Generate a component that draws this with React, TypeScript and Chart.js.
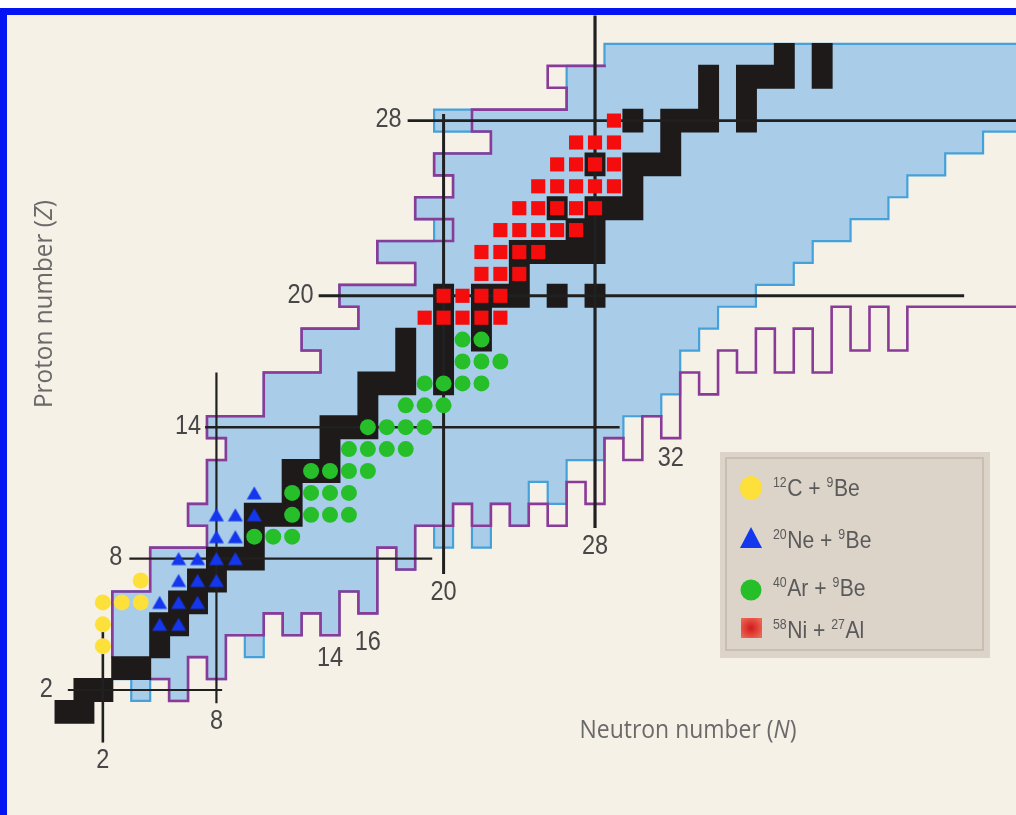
import React, { useEffect, useRef } from "react";
import { Chart, registerables } from "chart.js";

Chart.register(...registerables);

// Visible window in (N, Z)
const N_MIN = -3.434;
const N_MAX = 50.24;
const Z_MIN = -3.708;
const Z_MAX = 33.507;

// Stable nuclides: neutron numbers for each proton number (index = Z)
const stableN: number[][] = [
  [],
  [0, 1],
  [1, 2],
  [3, 4],
  [5],
  [5, 6],
  [6, 7],
  [7, 8],
  [8, 9, 10],
  [10],
  [10, 11, 12],
  [12],
  [12, 13, 14],
  [14],
  [14, 15, 16],
  [16],
  [16, 17, 18, 20],
  [18, 20],
  [18, 20, 22],
  [20, 22],
  [20, 22, 23, 24, 26, 28],
  [24],
  [24, 25, 26, 27, 28],
  [27, 28],
  [26, 28, 29, 30],
  [30],
  [28, 30, 31, 32],
  [32],
  [30, 32, 33, 34, 36],
  [34, 36],
  [34, 36, 37, 38, 40],
  [38, 40],
];

// Observed nuclides: neutron-number ranges for each Z (index = Z)
const knownRanges: [number, number][][] = [
  [],
  [],
  [[4, 4], [6, 6]],
  [[3, 6], [8, 8]],
  [[3, 8], [10, 10]],
  [[3, 10], [12, 12], [14, 14]],
  [[3, 14], [16, 16]],
  [[5, 16]],
  [[5, 16], [18, 18]],
  [[8, 18], [20, 20], [22, 22]],
  [[7, 20], [22, 22], [24, 24]],
  [[8, 24], [26, 26]],
  [[8, 26]],
  [[9, 28]],
  [[8, 29]],
  [[11, 31]],
  [[11, 32]],
  [[14, 32]],
  [[13, 33]],
  [[16, 34]],
  [[15, 36]],
  [[19, 38]],
  [[17, 39]],
  [[20, 41]],
  [[19, 43]],
  [[21, 44]],
  [[20, 46]],
  [[23, 48]],
  [[20, 56]],
  [[27, 56]],
  [[27, 56]],
  [[29, 56]],
];

// Drip-line contours, corners on cell edges as [N, Z]
const protonDripLine: [number, number][] = [
  [2.5, 3.5], [2.5, 6.5], [4.5, 6.5], [4.5, 8.5], [7.5, 8.5], [7.5, 9.5], [6.5, 9.5],
  [6.5, 10.5], [7.5, 10.5], [7.5, 12.5], [8.5, 12.5], [8.5, 13.5], [7.5, 13.5], [7.5, 14.5],
  [10.5, 14.5], [10.5, 16.5], [13.5, 16.5], [13.5, 17.5], [12.5, 17.5], [12.5, 18.5],
  [15.5, 18.5], [15.5, 19.5], [14.5, 19.5], [14.5, 20.5], [18.5, 20.5], [18.5, 21.5],
  [16.5, 21.5], [16.5, 22.5], [20.5, 22.5], [20.5, 23.5], [18.5, 23.5], [18.5, 24.5],
  [20.5, 24.5], [20.5, 25.5], [19.5, 25.5], [19.5, 26.5], [22.5, 26.5], [22.5, 27.5],
  [21.5, 27.5], [21.5, 28.5], [26.5, 28.5], [26.5, 29.5], [25.5, 29.5], [25.5, 30.5],
  [28.5, 30.5],
];

const neutronDripLine: [number, number][] = [
  [4.5, 2.5], [5.5, 2.5], [5.5, 1.5], [6.5, 1.5], [6.5, 3.5], [7.5, 3.5], [7.5, 2.5],
  [8.5, 2.5], [8.5, 4.5], [10.5, 4.5], [10.5, 5.5], [11.5, 5.5], [11.5, 4.5], [12.5, 4.5],
  [12.5, 5.5], [13.5, 5.5], [13.5, 4.5], [14.5, 4.5], [14.5, 6.5], [15.5, 6.5], [15.5, 5.5],
  [16.5, 5.5], [16.5, 8.5], [17.5, 8.5], [17.5, 7.5], [18.5, 7.5], [18.5, 9.5], [20.5, 9.5],
  [20.5, 10.5], [21.5, 10.5], [21.5, 9.5], [22.5, 9.5], [22.5, 10.5], [23.5, 10.5],
  [23.5, 9.5], [24.5, 9.5], [24.5, 10.5], [25.5, 10.5], [25.5, 9.5], [26.5, 9.5],
  [26.5, 11.5], [27.5, 11.5], [27.5, 10.5], [28.5, 10.5], [28.5, 13.5], [29.5, 13.5],
  [29.5, 12.5], [30.5, 12.5], [30.5, 14.5], [31.5, 14.5], [31.5, 13.5], [32.5, 13.5],
  [32.5, 16.5], [33.5, 16.5], [33.5, 15.5], [34.5, 15.5], [34.5, 17.5], [35.5, 17.5],
  [35.5, 16.5], [36.5, 16.5], [36.5, 18.5], [37.5, 18.5], [37.5, 16.5], [38.5, 16.5],
  [38.5, 18.5], [39.5, 18.5], [39.5, 16.5], [40.5, 16.5], [40.5, 19.5], [41.5, 19.5],
  [41.5, 17.5], [42.5, 17.5], [42.5, 19.5], [43.5, 19.5], [43.5, 17.5], [44.5, 17.5],
  [44.5, 19.5], [56, 19.5],
];

// Magic-number guide lines
const magicZ = [2, 8, 14, 20, 28];
const magicZFromN = [0.15, 3.4, 7.4, 13.4, 18.1];
const magicZToN = [8.3, 19.4, 29.3, 47.5, 56];
const magicN = [2, 8, 20, 28];
const magicNFromZ = [-0.4, 1.4, 7.3, 9.4];
const magicNToZ = [4.65, 16.5, 28.3, 32.8];

// New shell closures marked along the neutron drip line
const dripLabelN = [14, 16, 32];
const dripLabelZ = [3.45, 4.2, 12.6];

// Fragments observed per reaction: [Z, neutron numbers]
const carbonBeamRows: [number, number[]][] = [
  [4, [2]],
  [5, [2]],
  [6, [2, 3, 4]],
  [7, [4]],
];
const neonBeamRows: [number, number[]][] = [
  [5, [5, 6]],
  [6, [5, 6, 7]],
  [7, [6, 7, 8]],
  [8, [6, 7, 8, 9]],
  [9, [8, 9]],
  [10, [8, 9, 10]],
  [11, [10]],
];
const argonBeamRows: [number, number[]][] = [
  [9, [10, 11, 12]],
  [10, [12, 13, 14, 15]],
  [11, [12, 13, 14, 15]],
  [12, [13, 14, 15, 16]],
  [13, [15, 16, 17, 18]],
  [14, [16, 17, 18, 19]],
  [15, [18, 19, 20]],
  [16, [19, 20, 21, 22]],
  [17, [21, 22, 23]],
  [18, [21, 22]],
];
const nickelBeamRows: [number, number[]][] = [
  [19, [19, 20, 21, 22, 23]],
  [20, [20, 21, 22, 23]],
  [21, [22, 23, 24]],
  [22, [22, 23, 24, 25]],
  [23, [23, 24, 25, 26, 27]],
  [24, [24, 25, 26, 27, 28]],
  [25, [25, 26, 27, 28, 29]],
  [26, [26, 27, 28, 29]],
  [27, [27, 28, 29]],
  [28, [29]],
];

// Legend text pieces: [text, superscript]
const legendTexts: [string, boolean][][] = [
  [["12", true], ["C + ", false], ["9", true], ["Be", false]],
  [["20", true], ["Ne + ", false], ["9", true], ["Be", false]],
  [["40", true], ["Ar + ", false], ["9", true], ["Be", false]],
  [["58", true], ["Ni + ", false], ["27", true], ["Al", false]],
];

const CREAM = "#F6F1E7";
const FRAME = "#0414F2";
const KNOWN_FILL = "#A9CDE9";
const KNOWN_EDGE = "#45A1DA";
const DRIP = "#8A3A97";
const STABLE = "#1E1A1A";
const GUIDE = "#202020";
const NUMBER_INK = "#474747";
const TITLE_INK = "#6a6a6a";
const YELLOW = "#FDE03A";
const BLUE = "#1437EE";
const GREEN = "#26BF2A";
const RED = "#F50D0D";

const NUM_FONT = '"Liberation Sans", Arial, sans-serif';
const TITLE_FONT = '"Open Sans", "Liberation Sans", sans-serif';

const toPoints = (rows: [number, number[]][]) =>
  rows.flatMap(([z, ns]) => ns.map((n) => ({ x: n, y: z })));

const isKnown = (n: number, z: number) => {
  const ranges = knownRanges[z];
  if (!ranges) return false;
  return ranges.some(([a, b]) => n >= a && n <= b);
};

function drawNumber(ctx: CanvasRenderingContext2D, text: string, x: number, y: number, align: CanvasTextAlign) {
  ctx.save();
  ctx.font = `28px ${NUM_FONT}`;
  ctx.fillStyle = NUMBER_INK;
  ctx.textBaseline = "middle";
  ctx.textAlign = align;
  ctx.translate(x, y);
  ctx.scale(0.84, 1);
  ctx.fillText(text, 0, 0);
  ctx.restore();
}

function drawTitle(
  ctx: CanvasRenderingContext2D,
  parts: [string, boolean][],
  cx: number,
  cy: number,
  vertical: boolean,
  width: number
) {
  ctx.save();
  ctx.translate(cx, cy);
  if (vertical) ctx.rotate(-Math.PI / 2);
  const fontFor = (italic: boolean) => `${italic ? "italic " : ""}25px ${TITLE_FONT}`;
  let total = 0;
  parts.forEach(([t, it]) => {
    ctx.font = fontFor(it);
    total += ctx.measureText(t).width;
  });
  ctx.scale(width / total, 1);
  ctx.fillStyle = TITLE_INK;
  ctx.textBaseline = "middle";
  ctx.textAlign = "left";
  let x = -total / 2;
  parts.forEach(([t, it]) => {
    ctx.font = fontFor(it);
    ctx.fillText(t, x, 0);
    x += ctx.measureText(t).width;
  });
  ctx.restore();
}

function legendMarker(ctx: CanvasRenderingContext2D, kind: number, x: number, y: number) {
  ctx.save();
  if (kind === 0) {
    ctx.fillStyle = YELLOW;
    ctx.beginPath();
    ctx.ellipse(x, y, 11, 12, 0, 0, Math.PI * 2);
    ctx.fill();
  } else if (kind === 1) {
    ctx.fillStyle = BLUE;
    ctx.beginPath();
    ctx.moveTo(x, y - 11);
    ctx.lineTo(x + 11, y + 10);
    ctx.lineTo(x - 11, y + 10);
    ctx.closePath();
    ctx.fill();
  } else if (kind === 2) {
    ctx.fillStyle = GREEN;
    ctx.beginPath();
    ctx.arc(x, y, 10.5, 0, Math.PI * 2);
    ctx.fill();
  } else {
    const g = ctx.createRadialGradient(x, y, 1, x, y, 13);
    g.addColorStop(0, "#D41F22");
    g.addColorStop(1, "#EE6A55");
    ctx.fillStyle = g;
    ctx.fillRect(x - 10, y - 10, 21, 20);
  }
  ctx.restore();
}

const nuclideChartPlugin = {
  id: "nuclideChart",
  beforeDatasetsDraw(chart: any) {
    const { ctx } = chart;
    const xs = chart.scales.x;
    const ys = chart.scales.y;
    const px = (n: number) => xs.getPixelForValue(n);
    const py = (z: number) => ys.getPixelForValue(z);

    ctx.save();
    ctx.beginPath();
    ctx.rect(7, 15, chart.width, chart.height);
    ctx.clip();

    // observed nuclides
    ctx.fillStyle = KNOWN_FILL;
    ctx.beginPath();
    knownRanges.forEach((ranges, z) =>
      ranges.forEach(([a, b]) => {
        const x0 = px(a - 0.5);
        const y0 = py(z + 0.5);
        ctx.rect(x0, y0, px(b + 0.5) - x0, py(z - 0.5) - y0);
      })
    );
    ctx.fill();

    // outline of the observed region
    ctx.strokeStyle = KNOWN_EDGE;
    ctx.lineWidth = 2.2;
    ctx.lineCap = "square";
    ctx.beginPath();
    knownRanges.forEach((ranges, z) =>
      ranges.forEach(([a, b]) => {
        for (let n = a; n <= b; n++) {
          const l = px(n - 0.5), r = px(n + 0.5), t = py(z + 0.5), bt = py(z - 0.5);
          if (!isKnown(n - 1, z)) { ctx.moveTo(l, t); ctx.lineTo(l, bt); }
          if (!isKnown(n + 1, z)) { ctx.moveTo(r, t); ctx.lineTo(r, bt); }
          if (!isKnown(n, z + 1)) { ctx.moveTo(l, t); ctx.lineTo(r, t); }
          if (!isKnown(n, z - 1)) { ctx.moveTo(l, bt); ctx.lineTo(r, bt); }
        }
      })
    );
    ctx.stroke();

    // drip lines
    ctx.strokeStyle = DRIP;
    ctx.lineWidth = 2.6;
    ctx.lineJoin = "miter";
    ctx.lineCap = "square";
    [protonDripLine, neutronDripLine].forEach((line) => {
      ctx.beginPath();
      line.forEach(([n, z], i) => (i === 0 ? ctx.moveTo(px(n), py(z)) : ctx.lineTo(px(n), py(z))));
      ctx.stroke();
    });

    // stable nuclides
    ctx.fillStyle = STABLE;
    ctx.beginPath();
    stableN.forEach((ns, z) =>
      ns.forEach((n) => {
        const x0 = px(n - 0.5) - 1;
        const y0 = py(z + 0.5) - 1;
        ctx.rect(x0, y0, px(n + 0.5) + 1 - x0, py(z - 0.5) + 1 - y0);
      })
    );
    ctx.fill();

    // magic-number guides
    ctx.strokeStyle = GUIDE;
    ctx.lineCap = "butt";
    const zWidths = [2.2, 2.4, 2.4, 3, 2.6];
    magicZ.forEach((z, i) => {
      ctx.lineWidth = zWidths[i];
      ctx.beginPath();
      ctx.moveTo(px(magicZFromN[i]), py(z));
      ctx.lineTo(px(magicZToN[i]), py(z));
      ctx.stroke();
    });
    const nWidths = [2.6, 2.2, 3, 3.2];
    magicN.forEach((n, i) => {
      ctx.lineWidth = nWidths[i];
      ctx.beginPath();
      ctx.moveTo(px(n), py(magicNFromZ[i]));
      ctx.lineTo(px(n), py(magicNToZ[i]));
      ctx.stroke();
    });
    ctx.restore();

    // guide labels
    const zGaps = [15, 7, 4, 5, 6];
    magicZ.forEach((z, i) => drawNumber(ctx, String(z), px(magicZFromN[i]) - zGaps[i], py(z) - 1, "right"));
    magicN.forEach((n, i) => drawNumber(ctx, String(n), px(n), py(magicNFromZ[i]) + 18, "center"));
    dripLabelN.forEach((n, i) => drawNumber(ctx, String(n), px(n), py(dripLabelZ[i]), "center"));
  },
  afterDatasetsDraw(chart: any) {
    const { ctx } = chart;

    drawTitle(ctx, [["Proton number (", false], ["Z", true], [")", false]], 45, 304, true, 208);
    drawTitle(ctx, [["Neutron number (", false], ["N", true], [")", false]], 688, 731, false, 217);

    // legend box
    ctx.save();
    ctx.fillStyle = "#DCD3C9";
    ctx.fillRect(720, 452, 270, 206);
    ctx.strokeStyle = "#CABEB1";
    ctx.lineWidth = 2;
    ctx.strokeRect(726, 458, 257, 192);
    const markerY = [488, 538, 590, 628];
    const baseY = [496, 548, 596, 638];
    legendTexts.forEach((parts, i) => {
      legendMarker(ctx, i, 751, markerY[i]);
      let x = 773;
      parts.forEach(([t, sup]) => {
        ctx.font = sup ? `14px ${NUM_FONT}` : `24px ${NUM_FONT}`;
        ctx.fillStyle = "#5a5a5a";
        ctx.textAlign = "left";
        ctx.textBaseline = "alphabetic";
        const w = ctx.measureText(t).width * 0.88;
        ctx.save();
        ctx.translate(x, sup ? baseY[i] - 9 : baseY[i]);
        ctx.scale(0.88, 1);
        ctx.fillText(t, 0, 0);
        ctx.restore();
        x += w + (sup ? 0.5 : 0);
      });
    });
    ctx.restore();
  },
};

export default function App() {
  const canvasRef = useRef<HTMLCanvasElement | null>(null);

  useEffect(() => {
    const canvas = canvasRef.current;
    if (!canvas) return;

    const triangle = document.createElement("canvas");
    triangle.width = 16;
    triangle.height = 16;
    const tctx = triangle.getContext("2d");
    if (tctx) {
      tctx.fillStyle = BLUE;
      tctx.beginPath();
      tctx.moveTo(8, 1.5);
      tctx.lineTo(15.5, 14.5);
      tctx.lineTo(0.5, 14.5);
      tctx.closePath();
      tctx.fill();
    }

    const chart = new Chart(canvas, {
      type: "scatter",
      data: {
        datasets: [
          {
            label: "12C + 9Be",
            data: toPoints(carbonBeamRows),
            pointStyle: "circle",
            pointRadius: 8,
            backgroundColor: YELLOW,
            borderWidth: 0,
          },
          {
            label: "20Ne + 9Be",
            data: toPoints(neonBeamRows),
            pointStyle: triangle,
            pointRadius: 8,
            backgroundColor: BLUE,
            borderWidth: 0,
          },
          {
            label: "40Ar + 9Be",
            data: toPoints(argonBeamRows),
            pointStyle: "circle",
            pointRadius: 8,
            backgroundColor: GREEN,
            borderWidth: 0,
          },
          {
            label: "58Ni + 27Al",
            data: toPoints(nickelBeamRows),
            pointStyle: "rect",
            pointRadius: 10,
            backgroundColor: RED,
            borderWidth: 0,
          },
        ],
      },
      options: {
        animation: false,
        responsive: false,
        events: [],
        layout: { padding: 0, autoPadding: false },
        scales: {
          x: { type: "linear", min: N_MIN, max: N_MAX, display: false },
          y: { type: "linear", min: Z_MIN, max: Z_MAX, display: false },
        },
        plugins: {
          legend: { display: false },
          tooltip: { enabled: false },
          title: { display: false },
        },
      },
      plugins: [nuclideChartPlugin],
    } as any);

    return () => chart.destroy();
  }, []);

  return (
    <div
      style={{
        position: "absolute",
        left: 0,
        top: 0,
        width: 1016,
        height: 815,
        background: "#ffffff",
        overflow: "hidden",
      }}
    >
      <div
        style={{
          position: "absolute",
          left: 0,
          top: 8,
          width: 1016,
          height: 807,
          boxSizing: "border-box",
          borderTop: `7px solid ${FRAME}`,
          borderLeft: `7px solid ${FRAME}`,
          background: CREAM,
        }}
      />
      <canvas
        ref={canvasRef}
        width={1016}
        height={815}
        style={{ position: "absolute", left: 0, top: 0 }}
      />
    </div>
  );
}
